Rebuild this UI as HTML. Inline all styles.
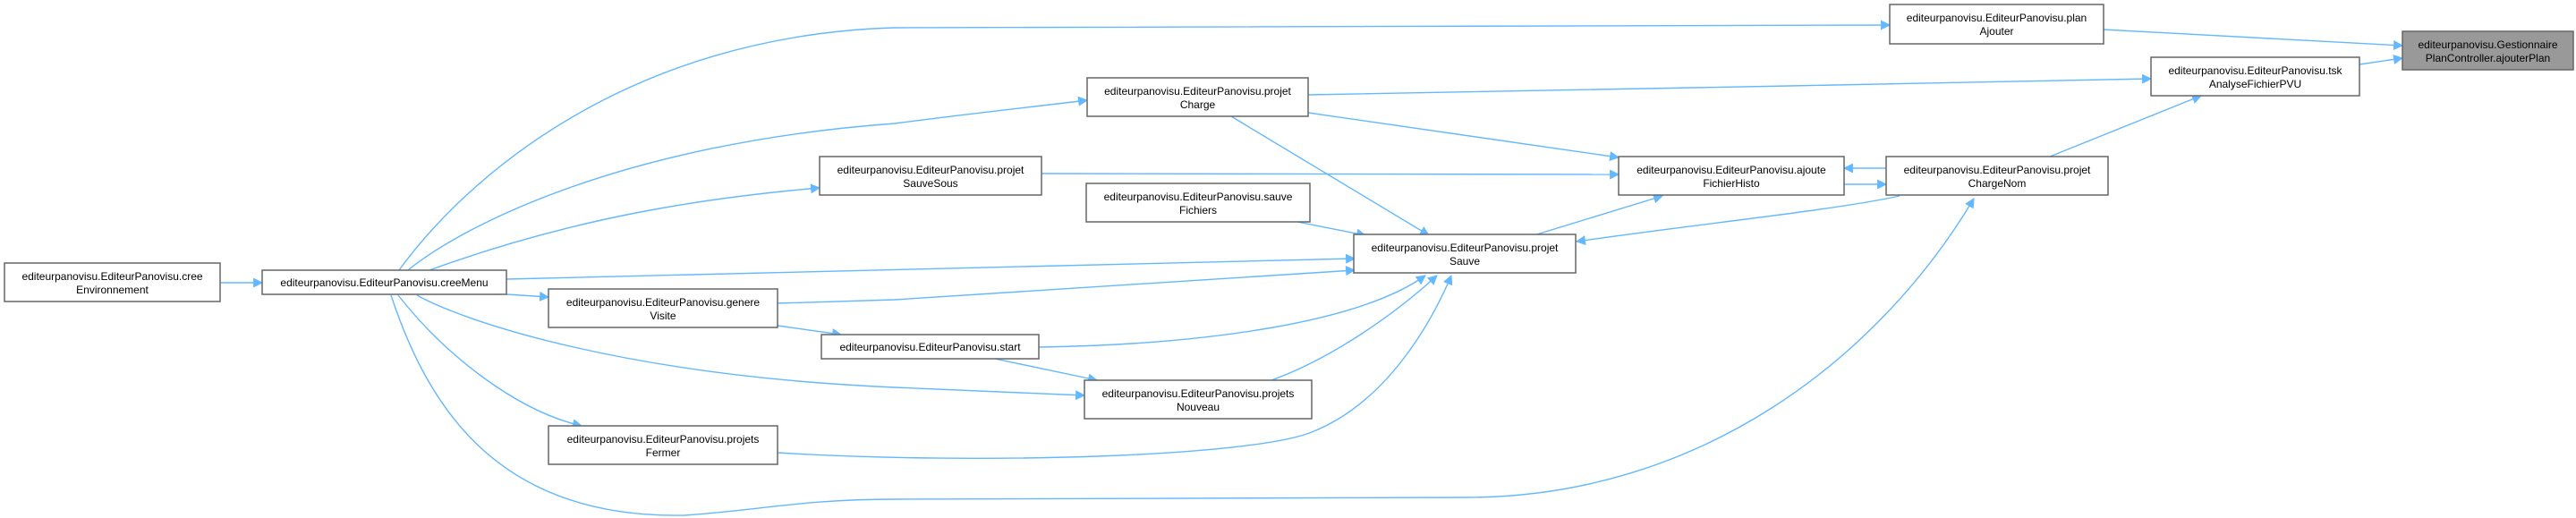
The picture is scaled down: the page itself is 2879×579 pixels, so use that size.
<!DOCTYPE html>
<html><head><meta charset="utf-8"><style>
html,body{margin:0;padding:0;background:#fff;}
svg{display:block;}
text{font-family:"Liberation Sans",Arial,sans-serif;font-size:12px;fill:#000;text-anchor:middle;}
.e{fill:none;stroke:#63b8ff;stroke-width:1.4;}
.n{fill:#fff;stroke:#666;stroke-width:1.5;}
</style></head><body>
<svg width="2879" height="579" viewBox="0 0 2879 579" xmlns="http://www.w3.org/2000/svg">
<defs><marker id="a" viewBox="0 0 10 10" refX="9" refY="5" markerWidth="14" markerHeight="11" markerUnits="userSpaceOnUse" orient="auto"><path d="M0,0L10,5L0,10z" fill="#63b8ff"/></marker></defs>
<g marker-end="url(#a)">
<path class="e" d="M246,316 L293,316"/>
<path class="e" d="M446,302 C520,200 700,40 1000,31 L2112,28"/>
<path class="e" d="M456,302 C520,250 700,160 1000,138 C1100,125 1150,120 1215,112"/>
<path class="e" d="M480,302 C650,240 800,220 916,210"/>
<path class="e" d="M566,312 L1514,289"/>
<path class="e" d="M566,329 L613,332"/>
<path class="e" d="M466,330 C520,360 700,420 1000,433 L1212,442"/>
<path class="e" d="M445,330 C500,400 580,460 650,476"/>
<path class="e" d="M437,330 C480,460 560,580 765,576 C850,570 900,558 1000,558 L1638,556 C1900,556 2100,400 2206,222"/>
<path class="e" d="M869,339 L1000,335 L1514,302"/>
<path class="e" d="M869,364 L940,374"/>
<path class="e" d="M869,506 C1100,520 1400,510 1466,483 C1550,450 1600,360 1622,308"/>
<path class="e" d="M1161,388 C1350,385 1520,360 1593,308"/>
<path class="e" d="M1112,401 L1226,425"/>
<path class="e" d="M1164,194 L1809,195"/>
<path class="e" d="M1376,130 L1597,263"/>
<path class="e" d="M1462,126 L1809,176"/>
<path class="e" d="M1462,106 L2000,96 L2404,88"/>
<path class="e" d="M1450,248 L1526,263"/>
<path class="e" d="M1421,425 C1490,400 1560,350 1606,308"/>
<path class="e" d="M1711,264 L1858,219"/>
<path class="e" d="M2123,219 C2050,235 1900,250 1762,270"/>
<path class="e" d="M2108,188 L2061,188"/>
<path class="e" d="M2061,206 L2108,206"/>
<path class="e" d="M2291,175 L2460,107"/>
<path class="e" d="M2351,33 L2685,51"/>
<path class="e" d="M2637,72 L2685,65"/>
</g>
<g>
<rect class="n" x="5" y="294" width="241" height="43"/><text x="125.5" y="313">editeurpanovisu.EditeurPanovisu.cree</text><text x="125.5" y="328">Environnement</text>
<rect class="n" x="293" y="302" width="273" height="27"/><text x="429.5" y="320">editeurpanovisu.EditeurPanovisu.creeMenu</text>
<rect class="n" x="613" y="323" width="256" height="43"/><text x="741" y="342">editeurpanovisu.EditeurPanovisu.genere</text><text x="741" y="357">Visite</text>
<rect class="n" x="613" y="476" width="256" height="43"/><text x="741" y="495">editeurpanovisu.EditeurPanovisu.projets</text><text x="741" y="510">Fermer</text>
<rect class="n" x="916" y="175" width="248" height="43"/><text x="1040" y="194">editeurpanovisu.EditeurPanovisu.projet</text><text x="1040" y="209">SauveSous</text>
<rect class="n" x="918" y="374" width="243" height="27"/><text x="1039.5" y="392">editeurpanovisu.EditeurPanovisu.start</text>
<rect class="n" x="1215" y="87" width="247" height="43"/><text x="1338.5" y="106">editeurpanovisu.EditeurPanovisu.projet</text><text x="1338.5" y="121">Charge</text>
<rect class="n" x="1214" y="205" width="250" height="43"/><text x="1339" y="224">editeurpanovisu.EditeurPanovisu.sauve</text><text x="1339" y="239">Fichiers</text>
<rect class="n" x="1513" y="262" width="248" height="43"/><text x="1637" y="281">editeurpanovisu.EditeurPanovisu.projet</text><text x="1637" y="296">Sauve</text>
<rect class="n" x="1212" y="425" width="254" height="43"/><text x="1339" y="444">editeurpanovisu.EditeurPanovisu.projets</text><text x="1339" y="459">Nouveau</text>
<rect class="n" x="1809" y="175" width="252" height="43"/><text x="1935" y="194">editeurpanovisu.EditeurPanovisu.ajoute</text><text x="1935" y="209">FichierHisto</text>
<rect class="n" x="2112" y="5" width="239" height="44"/><text x="2231.5" y="24">editeurpanovisu.EditeurPanovisu.plan</text><text x="2231.5" y="39">Ajouter</text>
<rect class="n" x="2404" y="64" width="233" height="43"/><text x="2520.5" y="83">editeurpanovisu.EditeurPanovisu.tsk</text><text x="2520.5" y="98">AnalyseFichierPVU</text>
<rect class="n" x="2108" y="175" width="248" height="43"/><text x="2232" y="194">editeurpanovisu.EditeurPanovisu.projet</text><text x="2232" y="209">ChargeNom</text>
<rect class="n" x="2685" y="35" width="191" height="43" style="fill:#999"/><text x="2780.5" y="54">editeurpanovisu.Gestionnaire</text><text x="2780.5" y="69">PlanController.ajouterPlan</text>
</g>
</svg>
</body></html>
